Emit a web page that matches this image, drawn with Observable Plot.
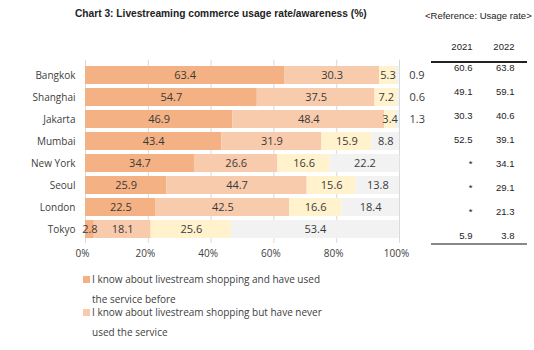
<!DOCTYPE html>
<html><head><meta charset="utf-8">
<script src="https://cdn.jsdelivr.net/npm/d3@7"></script>
<script src="https://cdn.jsdelivr.net/npm/@observablehq/plot@0.6"></script>
<style>
body{margin:0;background:#fff;}
#wrap{position:relative;width:534px;height:350px;overflow:hidden;background:#fff;}
#wrap svg{position:absolute;left:0;top:0;}
.title{position:absolute;left:75px;top:8px;font:bold 10.2px "Liberation Sans",Arial,sans-serif;color:#222;white-space:nowrap;}
.ref{position:absolute;left:425px;top:10px;font:9.5px "Liberation Sans",Arial,sans-serif;color:#222;white-space:nowrap;}
.leg{position:absolute;left:83px;font:10px "Open Sans",sans-serif;color:#404040;}
.leg .sw{position:absolute;left:0;top:7px;width:7px;height:7px;}
.leg .tx{position:absolute;left:9px;top:0;width:240px;line-height:20px;}
.hline{position:absolute;left:431px;width:96px;}
</style></head>
<body><div id="wrap">
<div class="title">Chart 3: Livestreaming commerce usage rate/awareness (%)</div>
<div class="ref">&lt;Reference: Usage rate&gt;</div>
<div class="hline" style="top:61px;height:1.5px;background:#222"></div>
<div class="hline" style="top:243px;height:1.5px;background:#888"></div>
</div>
<script>
const cities = ["Bangkok","Shanghai","Jakarta","Mumbai","New York","Seoul","London","Tokyo"];
const seriesNames = [
  "I know about livestream shopping and have used the service before",
  "I know about livestream shopping but have never used the service",
  "I have heard of livestream shopping but do not know the details",
  "I do not know about livestream shopping"
];
const seriesColors = ["#f4b183","#f8cbad","#fff2cc","#f2f2f2"];
const usedBefore    = [63.4,54.7,46.9,43.4,34.7,25.9,22.5,2.8];
const neverUsed     = [30.3,37.5,48.4,31.9,26.6,44.7,42.5,18.1];
const heardOnly     = [5.3,7.2,3.4,15.9,16.6,15.6,16.6,25.6];
const dontKnow      = [0.9,0.6,1.3,8.8,22.2,13.8,18.4,53.4];
const years = ["2021","2022"];
const usage2021 = [60.6,49.1,30.3,52.5,null,null,null,5.9];
const usage2022 = [63.8,59.1,40.6,39.1,34.1,29.1,21.3,3.8];
const xTicks = [0,20,40,60,80,100];

const seriesValues = [usedBefore, neverUsed, heardOnly, dontKnow];
const rows = [];
cities.forEach((c,i) => seriesValues.forEach((arr,k) => rows.push({city:c, series:seriesNames[k], value:arr[i]})));
const totals = cities.map((c,i) => seriesValues.reduce((s,a)=>s+a[i],0));
const outside = cities.map((c,i) => ({city:c, value:dontKnow[i], total:totals[i]})).filter(d => d.value < 2);
const tableRows = [];
cities.forEach((c,i) => {
  tableRows.push({city:c, year:"2021", label: usage2021[i]==null ? "*" : usage2021[i].toFixed(1)});
  tableRows.push({city:c, year:"2022", label: usage2022[i]==null ? "*" : usage2022[i].toFixed(1)});
});

const H = 268, MT = 59.6, MB = 25;
const yOpts = {domain: cities, padding: 0.2, label: null};
const labelColor = "#3a3a3a";

const chart = Plot.plot({
  width: 534, height: H, marginTop: MT, marginBottom: MB, marginLeft: 85, marginRight: 135,
  x: {domain: [0,100]},
  y: yOpts,
  color: {domain: seriesNames, range: seriesColors},
  style: {background: "transparent", fontFamily: '"Open Sans", sans-serif', fontSize: "10px", color: "#404040", overflow: "visible"},
  marks: [
    Plot.gridX({ticks: xTicks, stroke: "#d9d9d9", strokeOpacity: 1}),
    Plot.barX(rows, Plot.stackX({x: "value", y: "city", fill: "series"})),
    Plot.textX(rows, Plot.stackX({x: "value", y: "city", z: "series", text: d => d.value >= 2 ? d.value.toFixed(1) : "", fill: labelColor, fontSize: 11})),
    Plot.text(outside, {x: "total", y: "city", text: d => d.value.toFixed(1), dx: 10, textAnchor: "start", fill: labelColor, fontSize: 11}),
    Plot.axisX({ticks: xTicks, tickFormat: d => d + "%", tickSize: 0, tickPadding: 6, dx: -3, label: null, fontSize: 10}),
    Plot.axisY({tickSize: 0, tickPadding: 10, label: null, fontSize: 10})
  ]
});

const table = Plot.plot({
  width: 534, height: H, marginTop: MT, marginBottom: MB, marginLeft: 431, marginRight: 7,
  x: {type: "point", domain: years, range: [472, 514], padding: 0},
  y: {...yOpts, axis: null},
  style: {background: "transparent", fontFamily: '"Liberation Sans", Arial, sans-serif', fontSize: "9.5px", color: "#222", overflow: "visible"},
  marks: [
    Plot.text(tableRows, {x: "year", y: "city", text: "label", textAnchor: "end", fill: "#222", fontSize: 9.5}),
    Plot.axisX({anchor: "top", tickSize: 0, tickPadding: 10, textAnchor: "end", label: null, fontSize: 9.5})
  ]
});

const wrap = document.getElementById("wrap");
wrap.appendChild(chart);
wrap.appendChild(table);

const legendTops = [269, 302];
[0,1].forEach(k => {
  const item = document.createElement("div");
  item.className = "leg";
  item.style.top = legendTops[k] + "px";
  const sw = document.createElement("div");
  sw.className = "sw"; sw.style.background = seriesColors[k];
  const tx = document.createElement("div");
  tx.className = "tx"; tx.textContent = seriesNames[k];
  item.appendChild(sw); item.appendChild(tx);
  wrap.appendChild(item);
});
</script>
</body></html>
